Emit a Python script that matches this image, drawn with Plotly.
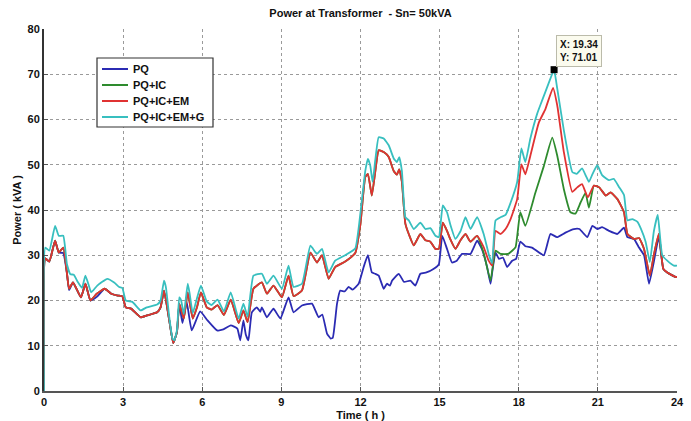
import plotly.graph_objects as go

# ---------------- data ----------------
t_pq = [0, 0.05, 0.2, 0.42, 0.56, 0.73, 0.87, 0.95, 1.1, 1.4, 1.57, 1.76, 2.0, 2.3, 2.55, 2.8,
        2.97, 3.1, 3.3, 3.66, 3.9, 4.29, 4.42, 4.55, 4.75, 4.9, 5.04, 5.13, 5.25, 5.41, 5.6,
        5.92, 6.2, 6.56, 6.8, 7.08, 7.33, 7.44, 7.56, 7.65, 7.75, 7.88, 8.07, 8.2, 8.26, 8.45,
        8.7, 8.96, 9.27, 9.46, 9.78, 10.16, 10.41, 10.55, 10.73, 10.87, 10.95, 11.11, 11.23,
        11.4, 11.55, 11.7, 11.93, 12.12, 12.28, 12.43, 12.56, 12.69, 12.88, 13.0, 13.12, 13.2,
        13.45, 13.65, 13.89, 14.08, 14.27, 14.5, 14.78, 14.97, 15.1, 15.28, 15.47, 15.65, 15.85,
        16.17, 16.42, 16.6, 16.8, 16.93, 17.0, 17.12, 17.25, 17.4, 17.56, 17.75, 17.9, 18.06,
        18.25, 18.5, 18.95, 19.2, 19.45, 19.77, 20.09, 20.3, 20.6, 20.79, 20.98, 21.16, 21.42,
        21.74, 21.99, 22.12, 22.37, 22.56, 22.75, 22.94, 23.12, 23.31, 23.48, 23.63, 23.94, 24.0]
pq = [0, 29.3, 28.6, 33.2, 30.6, 30.5, 26.0, 22.3, 24.0, 20.7, 23.7, 20.0, 20.8, 22.6, 21.5, 21.1,
      20.9, 18.5, 18.2, 16.3, 16.7, 17.4, 18.5, 22.2, 15.6, 10.6, 13.0, 19.3, 15.0, 19.7, 13.4,
      17.6, 15.6, 13.4, 13.6, 14.5, 13.8, 11.2, 15.6, 12.5, 11.2, 17.4, 18.5, 17.5, 18.5, 16.3,
      18.2, 16.0, 20.7, 17.4, 18.9, 19.3, 16.3, 16.9, 12.7, 11.6, 11.8, 19.3, 22.2,
      22.0, 23.0, 22.4, 23.7, 27.4, 30.0, 26.2, 25.9, 25.5, 22.6, 23.7, 23.3, 24.4,
      25.9, 24.1, 24.4, 23.3, 25.9, 26.2, 27.0, 28.0, 34.3, 31.4, 28.4, 28.8, 30.3,
      30.3, 33.2, 31.4, 27.4, 23.7, 26.5, 30.6, 29.2, 29.5, 27.4, 28.8, 29.2, 33.0,
      32.0, 31.7, 30.0, 34.7, 34.0, 35.0, 35.8, 35.8, 34.0, 36.5, 35.8, 36.2, 35.4,
      34.7, 36.1, 34.0, 33.6, 31.7, 30.0, 23.7, 28.5, 34.0, 27.0, 26.2, 25.2, 25.2]

t_ic = [0, 0.05, 0.2, 0.42, 0.56, 0.73, 0.87, 0.95, 1.1, 1.4, 1.57, 1.76, 2.0, 2.3, 2.55, 2.8,
        2.97, 3.1, 3.3, 3.66, 3.9, 4.29, 4.42, 4.55, 4.75, 4.9, 5.04, 5.13, 5.3, 5.45, 5.64,
        5.8, 5.95, 6.17, 6.35, 6.58, 6.82, 7.08, 7.38, 7.56, 7.72, 7.94, 8.26, 8.45, 8.7, 9.02,
        9.27, 9.46, 9.78, 10.1, 10.35, 10.54, 10.79, 11.04, 11.42, 11.8, 12.0, 12.18, 12.28,
        12.43, 12.56, 12.69, 12.88, 13.07, 13.26, 13.38, 13.47, 13.57, 13.7, 13.83, 14.02,
        14.27, 14.46, 14.65, 14.84, 14.97, 15.12, 15.28, 15.4, 15.6, 15.79, 15.98, 16.17,
        16.42, 16.67, 16.93, 17.12, 17.31, 17.6, 17.75, 17.88, 18.06, 18.25, 18.63, 18.95,
        19.27, 19.46, 19.71, 19.96, 20.15, 20.34, 20.53, 20.66, 20.85, 21.05, 21.3, 21.48,
        21.74, 21.99, 22.12, 22.37, 22.56, 22.75, 22.97, 23.12, 23.31, 23.48, 23.63, 23.94, 24.0]
ic = [0, 29.3, 28.6, 33.2, 30.6, 31.7, 26.0, 22.6, 24.0, 20.7, 23.7, 20.0, 21.5, 22.6, 21.5, 21.1,
      20.9, 18.5, 18.2, 16.3, 16.7, 17.4, 18.5, 22.2, 15.6, 10.6, 13.0, 19.3, 16.0, 21.8, 16.0,
      18.5, 21.8, 18.5, 18.0, 19.0, 16.8, 20.2, 15.0, 17.8, 15.2, 22.6, 24.0, 21.5, 23.3, 20.7,
      25.5, 21.0, 22.2, 30.6, 28.4, 30.0, 24.8, 27.4, 28.6, 30.5, 37.0, 47.3, 48.0,
      43.2, 48.5, 53.2, 52.8, 51.7, 48.6, 47.8, 49.0, 46.2, 37.0, 34.7, 32.2,
      34.7, 33.3, 33.0, 31.4, 31.4, 37.2, 35.4, 33.6, 31.4, 33.3, 34.7, 33.0,
      34.3, 30.5, 24.4, 31.0, 30.3, 30.3, 31.0, 31.8, 39.5, 36.5, 43.8, 49.7,
      56.0, 52.0, 44.6, 39.5, 39.2, 41.6, 43.8, 40.5, 45.4, 45.0, 43.2, 43.9,
      42.4, 39.5, 34.7, 33.6, 33.8, 31.4, 25.5, 30.0, 34.7, 27.0, 26.2, 25.2, 25.2]

t_em = [0, 0.05, 0.2, 0.42, 0.56, 0.73, 0.87, 0.95, 1.1, 1.4, 1.57, 1.76, 2.0, 2.3, 2.55, 2.8,
        2.97, 3.1, 3.3, 3.66, 3.9, 4.29, 4.42, 4.55, 4.75, 4.9, 5.04, 5.13, 5.3, 5.45, 5.64,
        5.8, 5.95, 6.17, 6.35, 6.58, 6.82, 7.08, 7.38, 7.56, 7.72, 7.94, 8.26, 8.45, 8.7, 9.02,
        9.27, 9.46, 9.78, 10.1, 10.35, 10.54, 10.79, 11.04, 11.42, 11.8, 12.0, 12.18, 12.28,
        12.43, 12.56, 12.69, 12.88, 13.07, 13.26, 13.38, 13.47, 13.57, 13.7, 13.83, 14.02,
        14.27, 14.46, 14.65, 14.84, 14.97, 15.12, 15.28, 15.4, 15.6, 15.79, 15.98, 16.17,
        16.42, 16.67, 16.86, 16.99, 17.12, 17.31, 17.5, 17.69, 17.94, 18.1, 18.25, 18.44,
        18.76, 19.01, 19.3, 19.46, 19.71, 20.03, 20.22, 20.4, 20.62, 20.85, 21.05, 21.3, 21.48,
        21.74, 21.99, 22.12, 22.37, 22.56, 22.75, 22.97, 23.12, 23.31, 23.48, 23.63, 23.94, 24.0]
em = [0, 29.3, 28.6, 33.2, 30.6, 31.7, 26.0, 22.6, 24.0, 20.7, 23.7, 20.0, 21.5, 22.6, 21.5, 21.1,
      20.9, 18.5, 18.2, 16.3, 16.7, 17.4, 18.5, 22.2, 15.6, 10.6, 13.0, 19.3, 16.0, 21.8, 16.0,
      18.5, 21.8, 18.5, 18.0, 19.0, 16.8, 20.2, 15.0, 17.8, 15.2, 22.6, 24.0, 21.5, 23.3, 20.7,
      25.5, 21.0, 22.2, 30.6, 28.4, 30.0, 24.8, 27.4, 28.6, 30.5, 37.0, 47.3, 48.0,
      43.2, 48.5, 53.2, 52.8, 51.7, 48.6, 47.8, 49.0, 46.2, 37.0, 34.7, 32.2,
      34.7, 33.3, 33.0, 31.4, 31.4, 37.2, 35.4, 33.6, 31.4, 33.3, 34.7, 33.0,
      34.3, 31.8, 28.8, 27.7, 35.4, 34.7, 35.8, 38.0, 42.4, 50.1, 47.9, 52.0,
      59.3, 62.3, 67.0, 63.1, 52.8, 44.0, 45.0, 45.7, 42.8, 45.4, 45.0, 43.2, 43.9,
      42.4, 39.5, 34.7, 33.6, 33.8, 31.4, 25.5, 30.0, 34.7, 27.0, 26.2, 25.2, 25.2]

t_g = [0, 0.05, 0.2, 0.42, 0.56, 0.73, 0.87, 1.0, 1.13, 1.25, 1.44, 1.57, 1.7, 1.79, 2.02, 2.4,
       2.66, 2.85, 2.97, 3.1, 3.35, 3.66, 3.9, 4.29, 4.42, 4.55, 4.62, 4.75, 4.87, 4.94, 5.04,
       5.13, 5.2, 5.3, 5.45, 5.52, 5.64, 5.8, 5.95, 6.17, 6.35, 6.58, 6.82, 7.08, 7.38, 7.56,
       7.72, 7.94, 8.26, 8.45, 8.7, 9.02, 9.27, 9.46, 9.78, 10.1, 10.35, 10.54, 10.79, 11.04,
       11.42, 11.8, 12.0, 12.18, 12.28, 12.37, 12.46, 12.56, 12.69, 12.88, 13.07, 13.26, 13.38,
       13.47, 13.57, 13.7, 13.83, 14.02, 14.27, 14.46, 14.65, 14.84, 14.97, 15.12, 15.28, 15.4,
       15.6, 15.79, 15.98, 16.17, 16.42, 16.67, 16.86, 16.99, 17.12, 17.31, 17.5, 17.69, 17.94,
       18.1, 18.25, 18.44, 18.7, 18.82, 19.01, 19.27, 19.34, 19.46, 19.71, 20.03, 20.2, 20.4,
       20.55, 20.66, 20.8, 20.98, 21.16, 21.42, 21.6, 21.8, 21.99, 22.12, 22.3, 22.5, 22.63,
       22.81, 22.97, 23.12, 23.27, 23.44, 23.63, 23.88, 24.0]
g = [0, 31.7, 31.0, 36.5, 34.3, 34.3, 28.0, 25.8, 25.7, 24.4, 22.8, 25.5, 23.3, 21.8, 23.3, 24.8,
     24.0, 23.0, 22.8, 20.0, 19.7, 17.8, 18.5, 19.1, 20.0, 24.4, 23.0, 16.3, 11.6, 11.2, 13.4,
     20.7, 20.0, 17.0, 23.7, 21.6, 17.2, 20.5, 23.3, 19.8, 19.0, 20.2, 17.6, 21.8, 16.0, 19.3,
     16.5, 25.5, 25.9, 23.7, 25.5, 22.6, 27.7, 23.0, 23.7, 32.1, 30.3, 31.4, 26.2, 28.8,
     30.0, 31.5, 39.5, 48.6, 51.3, 49.8, 46.2, 51.0, 56.1, 55.8, 54.3, 51.4, 50.6,
     51.7, 48.6, 38.4, 37.7, 35.8, 37.2, 35.8, 36.0, 34.3, 34.0, 41.0, 39.5, 36.9,
     33.6, 35.3, 38.4, 35.8, 38.4, 34.7, 30.3, 28.2, 37.7, 38.4, 38.9, 41.6, 46.2,
     53.6, 50.6, 55.8, 61.3, 63.2, 66.1, 70.1, 71.01, 66.8, 57.6, 48.4, 48.0, 49.2,
     47.5, 46.2, 48.0, 49.9, 47.7, 46.6, 46.9, 45.1, 43.3, 37.7, 38.0, 37.4, 35.9,
     33.0, 28.5, 35.2, 38.9, 30.0, 28.8, 27.7, 27.7]

names = ["PQ", "PQ+IC", "PQ+IC+EM", "PQ+IC+EM+G"]
colors = ["#2b2bb3", "#2e8b2e", "#e03232", "#38bfbf"]
tip_x = [19.34]
tip_y = [71.01]
x_ticks = [0, 3, 6, 9, 12, 15, 18, 21, 24]
y_ticks = [0, 10, 20, 30, 40, 50, 60, 70, 80]

FONT = "Liberation Sans, Arial, sans-serif"

# plot-area geometry (pixels) used for the hand-drawn legend box
L, R, T, B = 44, 677, 29, 391
def px(xp):
    return (xp - L) / (R - L)
def py(yp):
    return (B - yp) / (B - T)

fig = go.Figure()
for tx, ty, nm, col in zip([t_pq, t_ic, t_em, t_g], [pq, ic, em, g], names, colors):
    fig.add_trace(go.Scatter(x=tx, y=ty, mode="lines", name=nm, showlegend=False,
                             line=dict(color=col, width=1.8, shape="spline", smoothing=0.4)))

fig.add_trace(go.Scatter(x=tip_x, y=tip_y, mode="markers", showlegend=False,
                         marker=dict(symbol="square", size=7, color="black")))

fig.add_annotation(x=tip_x[0], y=tip_y[0], xref="x", yref="y",
                   text="X: %.2f<br>Y: %.2f" % (tip_x[0], tip_y[0]),
                   showarrow=False, xanchor="left", yanchor="bottom", xshift=2, yshift=3,
                   align="left", bgcolor="#fbfbee", bordercolor="#bbbbaa", borderwidth=1,
                   borderpad=3, font=dict(family=FONT, size=10, color="#111", weight="bold"))

# legend box (drawn)
fig.add_shape(type="rect", xref="paper", yref="paper",
              x0=px(97), x1=px(213), y0=py(127), y1=py(58),
              line=dict(color="#333", width=1.2), fillcolor="white", layer="above")
row_y = [69, 85, 101, 117]
for ry, nm, col in zip(row_y, names, colors):
    fig.add_shape(type="line", xref="paper", yref="paper",
                  x0=px(102), x1=px(128), y0=py(ry), y1=py(ry),
                  line=dict(color=col, width=2), layer="above")
    fig.add_annotation(x=px(131), y=py(ry), xref="paper", yref="paper", text=nm,
                       showarrow=False, xanchor="left", yanchor="middle",
                       font=dict(family=FONT, size=11, color="#111", weight="bold"))

fig.update_layout(
    width=691, height=421,
    margin=dict(l=44, r=14, t=29, b=30, autoexpand=False),
    paper_bgcolor="white", plot_bgcolor="white",
    title=dict(text="Power at Transformer  - Sn= 50kVA", x=(44 + 677) / 2 / 691, xanchor="center",
               y=1 - 13 / 421, yanchor="middle",
               font=dict(family=FONT, size=11, color="#111", weight="bold")),
    font=dict(family=FONT, size=11, color="#111", weight="bold"),
    showlegend=False,
)
fig.update_xaxes(range=[0, 24], tickvals=x_ticks, ticktext=[str(v) for v in x_ticks],
                 automargin=False,
                 showgrid=True, gridcolor="#9a9a9a", griddash="dot", gridwidth=1,
                 zeroline=False, showline=True, linecolor="#555", linewidth=2,
                 ticks="inside", ticklen=4, tickcolor="#555",
                 title=dict(text="Time ( h )", standoff=4,
                            font=dict(family=FONT, size=11, color="#111", weight="bold")),
                 tickfont=dict(family=FONT, size=11, color="#111", weight="bold"))
fig.update_yaxes(range=[0, 80], tickvals=y_ticks, ticktext=[str(v) for v in y_ticks],
                 automargin=False,
                 showgrid=True, gridcolor="#9a9a9a", griddash="dot", gridwidth=1,
                 zeroline=False, showline=True, linecolor="#333", linewidth=2,
                 ticks="inside", ticklen=4, tickcolor="#555",
                 title=dict(text="Power ( kVA )", standoff=4,
                            font=dict(family=FONT, size=11, color="#111", weight="bold")),
                 tickfont=dict(family=FONT, size=11, color="#111", weight="bold"))

fig.write_html("out.html")
